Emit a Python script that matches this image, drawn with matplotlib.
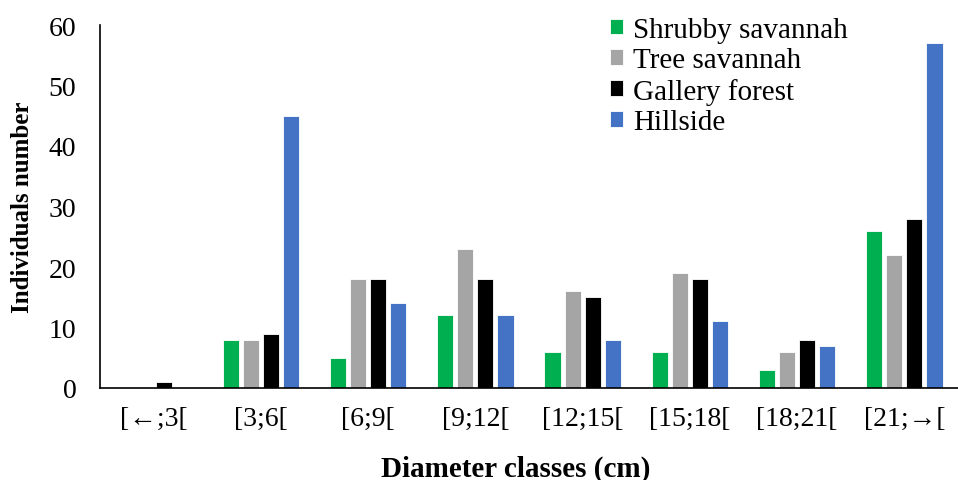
import matplotlib
matplotlib.use("Agg")
import matplotlib.pyplot as plt
import numpy as np

categories = ["[←;3[", "[3;6[", "[6;9[", "[9;12[", "[12;15[", "[15;18[", "[18;21[", "[21;→["]
series_names = ["Shrubby savannah", "Tree savannah", "Gallery forest", "Hillside"]
shrubby = [0, 8, 5, 12, 6, 6, 3, 26]
tree = [0, 8, 18, 23, 16, 19, 6, 22]
gallery = [1, 9, 18, 18, 15, 18, 8, 28]
hillside = [0, 45, 14, 12, 8, 11, 7, 57]
colors = ["#00B050", "#A5A5A5", "#000000", "#4472C4"]
y_ticks = [0, 10, 20, 30, 40, 50, 60]

plt.rcParams['font.family'] = ['Liberation Serif', 'DejaVu Serif']

W, H = 958, 481
fig = plt.figure(figsize=(W / 100, H / 100), dpi=100)
ax = fig.add_axes([100 / W, 1 - 389 / H, 858 / W, 363 / H])

x = np.arange(len(categories))
slot = 0.1875
bw = 0.15
for i, (vals, name, c) in enumerate(zip([shrubby, tree, gallery, hillside], series_names, colors)):
    ax.bar(x + (i - 1.5) * slot, vals, width=bw, color=c, label=name,
           edgecolor='white', linewidth=0.6)

ax.set_xlim(-0.5, len(categories) - 0.5)
ax.set_ylim(0, 60)
ax.set_yticks(y_ticks)
ax.set_xticks(x)
ax.set_xticklabels(categories)
ax.tick_params(axis='both', length=0, labelsize=20)
ax.tick_params(axis='y', pad=17)
ax.tick_params(axis='x', pad=13)
for s in ['top', 'right']:
    ax.spines[s].set_visible(False)
for s in ['left', 'bottom']:
    ax.spines[s].set_color('black')
    ax.spines[s].set_linewidth(1.2)

ax.set_xlabel("Diameter classes (cm)", fontsize=21, fontweight='bold')
ax.xaxis.set_label_coords((516 - 100) / 858, (389 - 469) / 363)
ax.xaxis.label.set_va('center')
ax.set_ylabel("Individuals number", fontsize=18, fontweight='bold')
ax.yaxis.set_label_coords((23 - 100) / 858, 0.5)
ax.yaxis.label.set_va('center')

leg = fig.legend(loc='upper left', bbox_to_anchor=(610 / W, 1 - 18 / H), frameon=False, fontsize=21,
                 handlelength=0.45, handleheight=0.45, handletextpad=0.35, labelspacing=0.15,
                 borderpad=0, borderaxespad=0)

fig.savefig("out.png", dpi=100)
